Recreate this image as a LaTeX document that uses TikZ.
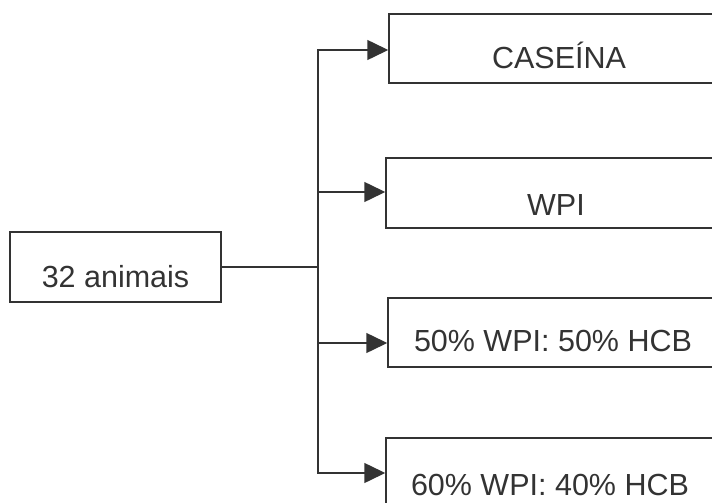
\documentclass[tikz,border=0pt]{standalone}
\usepackage{fontspec}
\setmainfont{Liberation Sans}
\usetikzlibrary{arrows.meta}
\tikzset{
  caixa/.style={draw=black!80, line width=1.5pt, inner sep=0pt, minimum width=334pt,
    text=black!80, font=\fontsize{30.5}{36}\selectfont},
  linha/.style={draw=black!80, line width=1.5pt},
  ponta/.tip={Triangle[length=21pt,width=20pt]},
}
\begin{document}
\begin{tikzpicture}[x=1pt,y=-1pt]
  \useasboundingbox (0,0) rectangle (712,503);
  \node[caixa, minimum width=211pt, text height=55pt, text depth=15pt] (A) at (115.5,267) {32 animais};
  \node[caixa, minimum width=340pt, text height=55pt, text depth=14pt] (B) at (559,48.5) {CASEÍNA};
  \node[caixa, minimum width=340pt, text height=57pt, text depth=13pt] (C) at (556,193) {WPI};
  \node[caixa, minimum width=330pt, text height=53pt, text depth=16pt] (D) at (553,332.5) {50\% WPI: 50\% HCB};
  \node[caixa, minimum width=328pt, text height=57pt, text depth=13pt] (E) at (550,473) {60\% WPI: 40\% HCB};
  \coordinate (T) at (318,267);
  \coordinate (T1) at (318,50);
  \coordinate (T2) at (318,192);
  \coordinate (T3) at (318,343);
  \coordinate (T4) at (318,473);
  \draw[linha] (A.east) -- (T);
  \draw[linha, line join=miter, ponta-ponta] (T1 -| B.west) -- (T1) -- (T4) -- (T4 -| E.west);
  \draw[linha, -ponta] (T2) -- (T2 -| C.west);
  \draw[linha, -ponta] (T3) -- (T3 -| D.west);
\end{tikzpicture}
\end{document}
